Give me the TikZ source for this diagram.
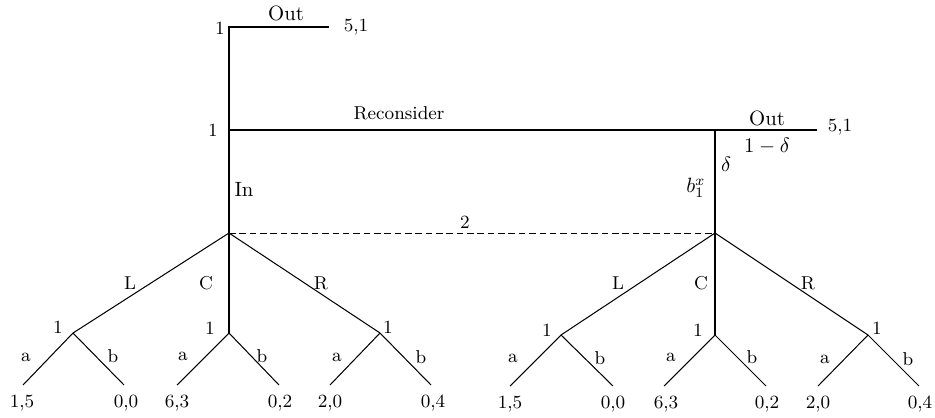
\documentclass[tikz,border=0pt]{standalone}
\begin{document}
\begin{tikzpicture}[x=0.4831pt,y=-0.4831pt,
  lab/.style={font=\small,inner sep=0pt},
  big/.style={inner sep=0pt},
  edge/.style={line width=0.5pt},
  dsh/.style={line width=0.45pt,dash pattern=on 3.2pt off 1.8pt}]
\useasboundingbox (0,0) rectangle (935,417);
% decision nodes
\coordinate (r1) at (229,27);
\coordinate (o1) at (329,27);
\coordinate (r2) at (229,130);
\coordinate (ch) at (715,130);
\coordinate (o2) at (817,130);
\coordinate (L0) at (229,233);
\coordinate (R0) at (715,233);
% left tree
\coordinate (LL) at (73,333);
\coordinate (LC) at (229,333);
\coordinate (LR) at (380,333);
\coordinate (l1) at (23,385);
\coordinate (l2) at (124,385);
\coordinate (l3) at (177,385);
\coordinate (l4) at (279,385);
\coordinate (l5) at (330,385);
\coordinate (l6) at (431,385);
% right tree
\coordinate (RL) at (561,335);
\coordinate (RC) at (715,335);
\coordinate (RR) at (868,335);
\coordinate (m1) at (510,386);
\coordinate (m2) at (613,386);
\coordinate (m3) at (664,386);
\coordinate (m4) at (766,386);
\coordinate (m5) at (818,386);
\coordinate (m6) at (919,386);
% top part
\draw[edge] (o1) -- (r1) -- (L0);
\draw[edge] (r2) -- (ch) -- (o2);
\draw[edge] (ch) -- (R0);
\draw[dsh] (L0) -- (R0);
% trees
\draw[edge] (L0) -- (LL); \draw[edge] (L0) -- (LC); \draw[edge] (L0) -- (LR);
\draw[edge] (LL) -- (l1); \draw[edge] (LL) -- (l2);
\draw[edge] (LC) -- (l3); \draw[edge] (LC) -- (l4);
\draw[edge] (LR) -- (l5); \draw[edge] (LR) -- (l6);
\draw[edge] (R0) -- (RL); \draw[edge] (R0) -- (RC); \draw[edge] (R0) -- (RR);
\draw[edge] (RL) -- (m1); \draw[edge] (RL) -- (m2);
\draw[edge] (RC) -- (m3); \draw[edge] (RC) -- (m4);
\draw[edge] (RR) -- (m5); \draw[edge] (RR) -- (m6);
% labels top
\node[lab] (t1) at (220,28) {1};
\node[big] (tout) at (286,13) {Out};
\node[lab] (p0) at (356,27) {5,1};
\node[lab] (t2) at (213,130) {1};
\node[lab] (rec) at (399,113) {Reconsider};
\node[big] (pout) at (767,118) {Out};
\node[lab] (p01) at (840,127) {5,1};
\node[big] (omd) at (767,146) {$1-\delta$};
\node[big] (dl) at (726,164) {$\delta$};
\node[big] (bx) at (696,188) {$b_1^x$};
\node[big] (inl) at (244,189) {In};
\node[lab] (two) at (465,222) {2};
% left tree labels
\node[lab] at (130,283) {L};
\node[lab] at (206,283) {C};
\node[lab] at (321,283) {R};
\node[lab] at (58,327) {1};
\node[lab] at (210,328) {1};
\node[lab] at (388,327) {1};
\node[lab] at (26,357) {a};
\node[lab] at (113,356) {b};
\node[lab] at (183,356) {a};
\node[lab] at (262,356) {b};
\node[lab] at (337,357) {a};
\node[lab] at (421,357) {b};
% right tree labels
\node[lab] at (618,283) {L};
\node[lab] at (701,283) {C};
\node[lab] at (808,283) {R};
\node[lab] at (547,330) {1};
\node[lab] at (698,330) {1};
\node[lab] at (877,328) {1};
\node[lab] at (513,358) {a};
\node[lab] at (600,358) {b};
\node[lab] at (671,357) {a};
\node[lab] at (752,357) {b};
\node[lab] at (825,359) {a};
\node[lab] at (908,359) {b};
% payoffs
\node[lab] (q1) at (22,403) {1,5};
\node[lab] (q2) at (126,403) {0,0};
\node[lab] (q3) at (177,403) {6,3};
\node[lab] (q4) at (280,403) {0,2};
\node[lab] (q5) at (330,403) {2,0};
\node[lab] (q6) at (433,403) {0,4};
\node[lab] (s1) at (510,404) {1,5};
\node[lab] (s2) at (613,404) {0,0};
\node[lab] (s3) at (666,404) {6,3};
\node[lab] (s4) at (767,404) {0,2};
\node[lab] (s5) at (818,404) {2,0};
\node[lab] (s6) at (920,404) {0,4};
\end{tikzpicture}
\end{document}
